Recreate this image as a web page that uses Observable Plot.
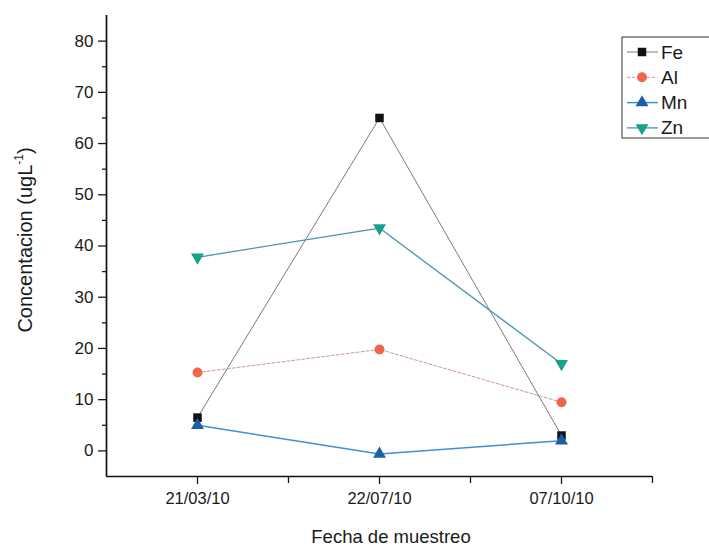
<!DOCTYPE html>
<html><head><meta charset="utf-8">
<script src="https://cdn.jsdelivr.net/npm/d3@7"></script>
<script src="https://cdn.jsdelivr.net/npm/@observablehq/plot@0.6"></script>
<style>
body{margin:0;background:#fff;font-family:"Liberation Sans",Arial,sans-serif}
#chart{position:relative;width:709px;height:554px}
</style>
</head><body><div id="chart"></div>
<script>
// ---- data ----
const dates = ["21/03/10", "22/07/10", "07/10/10"];
const seriesNames = ["Fe", "Al", "Mn", "Zn"];
const fe = [6.5, 65, 3];
const al = [15.3, 19.8, 9.5];
const mn = [5, -0.6, 2];
const zn = [37.8, 43.5, 17];
const yMajorTicks = [0, 10, 20, 30, 40, 50, 60, 70, 80];
const yMinorTicks = [5, 15, 25, 35, 45, 55, 65, 75];
const xMinorTicks = [1.5, 2.5, 3.5];
const xLabel = "Fecha de muestreo";
const yLabelMain = "Concentacion (ugL";
const yLabelSup = "-1";

// ---- styles ----
const triDown = {
  draw(context, size) {
    const y = -Math.sqrt(size / (Math.sqrt(3) * 3));
    context.moveTo(0, -y * 2);
    context.lineTo(-Math.sqrt(3) * y, y);
    context.lineTo(Math.sqrt(3) * y, y);
    context.closePath();
  }
};
const styles = {
  Fe: {line: "#7a7a7a", width: 1, dash: null, fill: "#111111", symbol: "square", r: 4.8},
  Al: {line: "#c79a94", width: 1, dash: "3,2", fill: "#f2654c", symbol: "circle", r: 5},
  Mn: {line: "#3f8fd9", width: 1.5, dash: null, fill: "#1d5fa6", symbol: "triangle", r: 4.8},
  Zn: {line: "#4a93b3", width: 1.3, dash: null, fill: "#17a08c", symbol: triDown, r: 4.8}
};

const valuesBySeries = {Fe: fe, Al: al, Mn: mn, Zn: zn};
const rows = seriesNames.flatMap(s =>
  valuesBySeries[s].map((v, i) => ({series: s, idx: i + 1, value: v}))
);

const lineMarks = seriesNames.map(s => Plot.line(rows.filter(d => d.series === s), {
  x: "idx", y: "value", stroke: styles[s].line, strokeWidth: styles[s].width,
  strokeDasharray: styles[s].dash
}));
const dotMarks = seriesNames.map(s => Plot.dot(rows.filter(d => d.series === s), {
  x: "idx", y: "value", symbol: () => styles[s].symbol, fill: styles[s].fill,
  stroke: "none", r: styles[s].r
}));

const plot = Plot.plot({
  width: 709,
  height: 554,
  marginLeft: 106,
  marginRight: 57,
  marginTop: 15,
  marginBottom: 78,
  style: {fontFamily: "'Liberation Sans', Arial, sans-serif", fontSize: "16px", color: "#1a1a1a", background: "#fff"},
  x: {domain: [0.5, 3.5], label: null},
  y: {domain: [-5, 85], label: null},
  symbol: {type: "identity"},
  marks: [
    Plot.axisY(yMajorTicks, {anchor: "left", tickSize: 8, tickPadding: 5, strokeWidth: 1.3, label: null}),
    Plot.axisY(yMinorTicks, {anchor: "left", tickSize: 4, tickFormat: () => "", strokeWidth: 1.3, label: null}),
    Plot.axisX([1, 2, 3], {anchor: "bottom", tickSize: 8, tickPadding: 8, strokeWidth: 1.3,
      tickFormat: i => dates[i - 1], label: null}),
    Plot.axisX(xMinorTicks, {anchor: "bottom", tickSize: 7, tickFormat: () => "", strokeWidth: 1.3, label: null}),
    Plot.ruleX([0.5], {stroke: "#111", strokeWidth: 1.7}),
    Plot.ruleY([-5], {stroke: "#111", strokeWidth: 1.7}),
    ...lineMarks,
    ...dotMarks
  ]
});
document.getElementById("chart").appendChild(plot);

const svg = d3.select(plot);
// enforce tick label font sizes
svg.selectAll("g[aria-label='y-axis tick label']").attr("font-size", 17).style("font-size", "17px");
svg.selectAll("g[aria-label='x-axis tick label']").attr("font-size", 16.5).style("font-size", "16.5px");

// axis titles
svg.append("text")
  .attr("x", 391).attr("y", 543)
  .attr("text-anchor", "middle")
  .style("font-size", "18.5px")
  .attr("fill", "#1a1a1a")
  .text(xLabel);

const yt = svg.append("text")
  .attr("transform", "translate(32,240) rotate(-90)")
  .attr("text-anchor", "middle")
  .style("font-size", "20px")
  .attr("fill", "#1a1a1a");
yt.append("tspan").text(yLabelMain);
yt.append("tspan").style("font-size", "12px").attr("dy", -9).text(yLabelSup);
yt.append("tspan").attr("dy", 9).text(")");

// legend
const lg = svg.append("g").attr("text-anchor", "start");
lg.append("rect").attr("x", 622).attr("y", 37).attr("width", 100).attr("height", 101)
  .attr("fill", "#fff").attr("stroke", "#333").attr("stroke-width", 1);
seriesNames.forEach((s, i) => {
  const cy = 52 + i * 25.3;
  const st = styles[s];
  lg.append("line").attr("x1", 627).attr("x2", 658).attr("y1", cy).attr("y2", cy)
    .attr("stroke", st.line).attr("stroke-width", st.width)
    .attr("stroke-dasharray", st.dash);
  const sym = typeof st.symbol === "string"
    ? {square: d3.symbolSquare, circle: d3.symbolCircle, triangle: d3.symbolTriangle}[st.symbol]
    : st.symbol;
  lg.append("path").attr("d", d3.symbol(sym, Math.PI * st.r * st.r)())
    .attr("transform", `translate(642,${cy})`).attr("fill", st.fill);
  lg.append("text").attr("x", 661).attr("y", cy + 6.5).attr("text-anchor", "start")
    .style("font-size", "19px")
    .attr("fill", "#1a1a1a").text(s);
});
</script>
</body></html>
